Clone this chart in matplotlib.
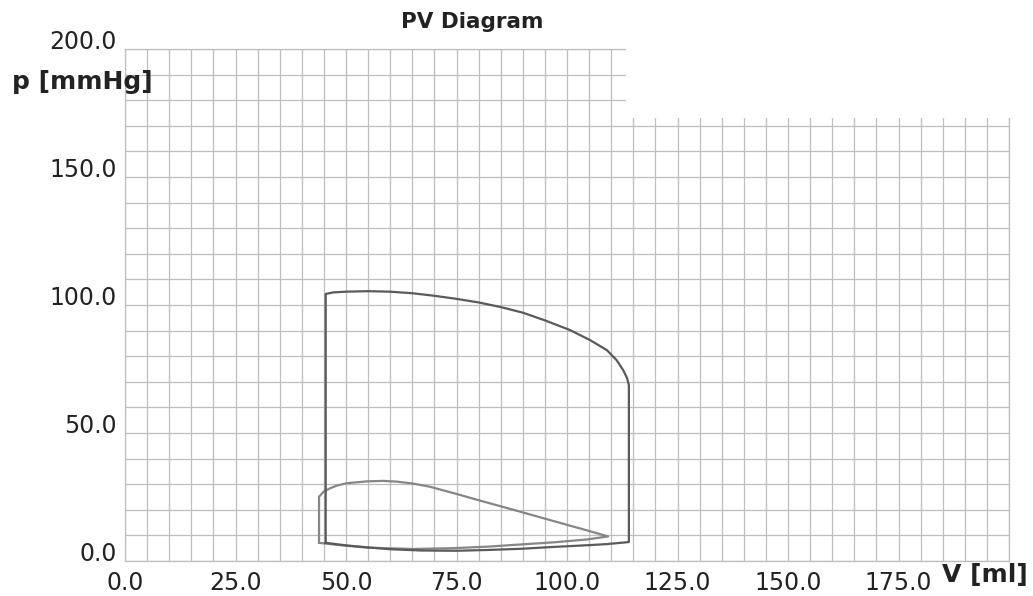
import numpy as np
import matplotlib
matplotlib.use('Agg')
import matplotlib.pyplot as plt
from matplotlib.patches import Rectangle

# loop 1 (darker): volume [ml] / pressure [mmHg], traced counter-clockwise
vol_a = [45.4, 45.4, 47.0, 50.0, 55.0, 60.0, 65.0, 70.0, 75.0, 80.0, 85.0,
         90.0, 95.0, 100.7, 105.2, 109.0, 111.2, 112.7, 113.6, 114.0,
         114.0, 109.0, 105.0, 97.0, 90.0, 82.0, 75.0, 67.0, 60.0, 55.0,
         50.0, 45.4]
pres_a = [7.1, 104.3, 104.9, 105.2, 105.4, 105.2, 104.6, 103.6, 102.4,
          101.0, 99.2, 97.0, 94.0, 90.2, 86.3, 82.4, 78.5, 74.6, 71.4, 68.7,
          7.4, 6.6, 6.2, 5.5, 4.8, 4.3, 4.0, 4.1, 4.6, 5.3, 6.1, 7.1]

# loop 2 (lighter)
vol_b = [43.9, 43.9, 45.0, 46.4, 48.0, 50.2, 54.7, 58.4, 61.5, 65.0, 69.0,
         75.0, 80.3, 86.0, 91.6, 98.4, 103.0, 109.3, 104.5, 97.0, 89.0,
         82.0, 74.0, 65.0, 55.0, 48.0, 43.9]
pres_b = [7.1, 25.1, 27.2, 28.4, 29.5, 30.4, 31.1, 31.3, 31.0, 30.3, 29.0,
          26.2, 23.6, 20.9, 18.2, 14.9, 12.7, 9.6, 8.4, 7.3, 6.4, 5.6, 5.0,
          4.7, 5.2, 6.3, 7.1]

x_ticks = [0, 25, 50, 75, 100, 125, 150, 175]
y_ticks = [0, 50, 100, 150, 200]

grid_col = '#bdbdbd'
text_col = '#222222'

fig = plt.figure(figsize=(10.33, 5.96), dpi=100)
ax = fig.add_axes([125 / 1033, 35 / 596, 884 / 1033, 512 / 596])

ax.plot(vol_a, pres_a, color='#5a5a5a', lw=1.6, zorder=4)
ax.plot(vol_b, pres_b, color='#868686', lw=1.6, zorder=3)

ax.set_xlim(0, 200)
ax.set_ylim(0, 200)
ax.set_xticks(x_ticks)
ax.set_xticklabels([f'{v:.1f}' for v in x_ticks])
ax.set_yticks(y_ticks)
ax.set_yticklabels([f'{v:.1f}' for v in y_ticks])
ax.set_xticks(np.arange(0, 201, 5), minor=True)
ax.set_yticks(np.arange(0, 201, 10), minor=True)
ax.tick_params(which='both', length=0, labelsize=17, labelcolor=text_col)
ax.tick_params(axis='x', pad=7)
ax.tick_params(axis='y', pad=6)
for lab in ax.get_yticklabels():
    lab.set_verticalalignment('baseline')

ax.grid(True, which='both', color=grid_col, lw=0.9)
ax.set_axisbelow(True)
for s in ax.spines.values():
    s.set_color(grid_col)
    s.set_linewidth(0.9)

# blank box in the upper right corner
ax.add_patch(Rectangle((113.3, 173), 95, 40, facecolor='white',
                       edgecolor='none', zorder=2.6, clip_on=False))

fig.text(472 / 1033, 1 - 22 / 596, 'PV Diagram', ha='center', va='center',
         fontsize=15.5, fontweight='bold', color=text_col)
fig.text(12 / 1033, 1 - 82 / 596, 'p [mmHg]', ha='left', va='center',
         fontsize=18, fontweight='bold', color=text_col)
fig.text(942 / 1033, 1 - 575 / 596, 'V [ml]', ha='left', va='center',
         fontsize=18, fontweight='bold', color=text_col)

fig.savefig('out.png', dpi=100)
